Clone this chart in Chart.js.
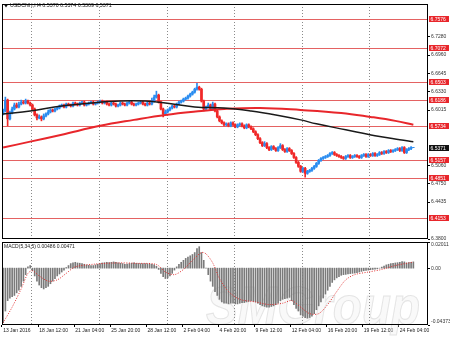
<!DOCTYPE html>
<html><head><meta charset="utf-8">
<script src="https://cdn.jsdelivr.net/npm/chart.js@4.4.1/dist/chart.umd.min.js"></script>
<style>
html,body{margin:0;padding:0;background:#fff;width:450px;height:337px;overflow:hidden;position:relative}
canvas{display:block;position:absolute;left:0}
#main{top:0}
#macd{top:240px}
</style></head><body>
<canvas id="main" width="450" height="246"></canvas>
<canvas id="macd" width="450" height="97"></canvas>
<script>
const symbolTitle = 'USDCNH,H4 6.5370 6.5374 6.5369 6.5371';
const macdTitle = 'MACD(5,34,5) 0.00486 0.00471';
const tickLabels = ['13 Jan 2016','18 Jan 12:00','21 Jan 04:00','25 Jan 20:00','28 Jan 12:00','2 Feb 04:00','4 Feb 20:00','9 Feb 12:00','12 Feb 04:00','16 Feb 20:00','19 Feb 12:00','24 Feb 04:00'];
const tickEvery = 16;
const emptyBars = 6;
const weekStartBars = [13, 43, 73, 103, 133, 163];

const opens = [6.5948,6.5999,6.6186,6.5863,6.5965,6.6033,6.6101,6.6067,6.6118,6.6152,
 6.6135,6.6169,6.6135,6.6101,6.6033,6.5931,6.5880,6.5897,6.5863,6.5914,
 6.5948,6.5982,6.6016,6.5999,6.6033,6.6050,6.6084,6.6101,6.6067,6.6118,
 6.6101,6.6084,6.6135,6.6118,6.6101,6.6135,6.6152,6.6101,6.6118,6.6135,
 6.6152,6.6118,6.6135,6.6152,6.6169,6.6135,6.6152,6.6118,6.6101,6.6135,
 6.6118,6.6084,6.6101,6.6135,6.6118,6.6101,6.6135,6.6152,6.6118,6.6101,
 6.6118,6.6135,6.6152,6.6118,6.6101,6.6135,6.6118,6.6169,6.6237,6.6271,
 6.6152,6.6033,6.5948,6.5982,6.6016,6.6050,6.6084,6.6067,6.6118,6.6152,
 6.6169,6.6203,6.6220,6.6254,6.6288,6.6322,6.6373,6.6407,6.6373,6.6169,
 6.6033,6.6067,6.6101,6.6033,6.6118,6.5999,6.5897,6.5829,6.5795,6.5761,
 6.5778,6.5744,6.5795,6.5761,6.5727,6.5761,6.5778,6.5744,6.5710,6.5761,
 6.5727,6.5693,6.5642,6.5591,6.5523,6.5455,6.5404,6.5438,6.5370,6.5336,
 6.5387,6.5353,6.5319,6.5370,6.5404,6.5336,6.5302,6.5353,6.5319,6.5268,
 6.5200,6.5115,6.5047,6.4962,6.5013,6.4928,6.4962,6.4979,6.5013,6.5047,
 6.5098,6.5149,6.5183,6.5200,6.5217,6.5234,6.5268,6.5285,6.5251,6.5234,
 6.5217,6.5200,6.5183,6.5217,6.5234,6.5200,6.5217,6.5234,6.5217,6.5200,
 6.5234,6.5251,6.5217,6.5251,6.5234,6.5268,6.5234,6.5251,6.5285,6.5268,
 6.5302,6.5285,6.5319,6.5302,6.5319,6.5336,6.5353,6.5319,6.5370,6.5285,
 6.5336,6.5353,6.5370];
const highs = [6.6033,6.6237,6.6203,6.5999,6.6067,6.6135,6.6135,6.6152,6.6186,6.6169,
 6.6203,6.6186,6.6152,6.6118,6.6050,6.5948,6.5931,6.5914,6.5948,6.5965,
 6.6016,6.6033,6.6033,6.6050,6.6067,6.6101,6.6118,6.6118,6.6135,6.6135,
 6.6118,6.6152,6.6152,6.6135,6.6152,6.6169,6.6169,6.6135,6.6152,6.6169,
 6.6169,6.6152,6.6169,6.6186,6.6186,6.6169,6.6169,6.6135,6.6152,6.6152,
 6.6135,6.6118,6.6152,6.6152,6.6135,6.6152,6.6169,6.6169,6.6135,6.6135,
 6.6152,6.6169,6.6169,6.6135,6.6152,6.6152,6.6220,6.6271,6.6339,6.6288,
 6.6169,6.6050,6.6016,6.6033,6.6067,6.6101,6.6101,6.6135,6.6169,6.6186,
 6.6220,6.6237,6.6271,6.6305,6.6339,6.6390,6.6475,6.6424,6.6390,6.6186,
 6.6084,6.6135,6.6118,6.6152,6.6135,6.6016,6.5914,6.5846,6.5812,6.5795,
 6.5795,6.5812,6.5812,6.5778,6.5778,6.5795,6.5795,6.5761,6.5778,6.5778,
 6.5744,6.5710,6.5659,6.5608,6.5540,6.5472,6.5472,6.5455,6.5387,6.5404,
 6.5404,6.5370,6.5387,6.5438,6.5421,6.5353,6.5370,6.5370,6.5336,6.5285,
 6.5217,6.5132,6.5064,6.5030,6.5030,6.4979,6.4996,6.5030,6.5064,6.5115,
 6.5166,6.5200,6.5217,6.5234,6.5251,6.5285,6.5302,6.5302,6.5268,6.5251,
 6.5234,6.5217,6.5234,6.5251,6.5251,6.5234,6.5251,6.5251,6.5234,6.5251,
 6.5268,6.5268,6.5268,6.5268,6.5285,6.5285,6.5268,6.5302,6.5302,6.5319,
 6.5319,6.5336,6.5336,6.5336,6.5353,6.5370,6.5370,6.5387,6.5387,6.5353,
 6.5370,6.5387,6.5374];
const lows = [6.5931,6.5982,6.5744,6.5846,6.5948,6.6016,6.6050,6.6050,6.6101,6.6118,
 6.6118,6.6118,6.6084,6.6016,6.5914,6.5846,6.5863,6.5829,6.5846,6.5897,
 6.5931,6.5965,6.5982,6.5982,6.6016,6.6033,6.6067,6.6050,6.6050,6.6084,
 6.6067,6.6067,6.6101,6.6084,6.6084,6.6118,6.6084,6.6084,6.6101,6.6118,
 6.6101,6.6101,6.6118,6.6135,6.6118,6.6118,6.6101,6.6084,6.6084,6.6101,
 6.6067,6.6067,6.6084,6.6101,6.6084,6.6084,6.6118,6.6101,6.6084,6.6084,
 6.6101,6.6118,6.6101,6.6084,6.6084,6.6101,6.6101,6.6152,6.6220,6.6135,
 6.6016,6.5897,6.5931,6.5965,6.5999,6.6033,6.6050,6.6050,6.6101,6.6135,
 6.6152,6.6186,6.6203,6.6237,6.6271,6.6305,6.6356,6.6356,6.6152,6.5999,
 6.6016,6.6050,6.6016,6.6016,6.5982,6.5880,6.5812,6.5778,6.5744,6.5744,
 6.5727,6.5727,6.5744,6.5710,6.5710,6.5744,6.5727,6.5693,6.5693,6.5710,
 6.5676,6.5625,6.5574,6.5506,6.5438,6.5387,6.5387,6.5353,6.5319,6.5319,
 6.5336,6.5302,6.5302,6.5353,6.5319,6.5285,6.5285,6.5302,6.5251,6.5183,
 6.5098,6.5030,6.4945,6.4945,6.4860,6.4911,6.4945,6.4962,6.4996,6.5030,
 6.5081,6.5132,6.5166,6.5183,6.5200,6.5217,6.5251,6.5234,6.5217,6.5200,
 6.5183,6.5166,6.5166,6.5200,6.5183,6.5183,6.5200,6.5200,6.5183,6.5183,
 6.5217,6.5200,6.5200,6.5217,6.5217,6.5217,6.5217,6.5234,6.5251,6.5251,
 6.5268,6.5268,6.5285,6.5285,6.5302,6.5319,6.5302,6.5302,6.5268,6.5268,
 6.5319,6.5336,6.5369];
const closes = [6.5999,6.6186,6.5863,6.5965,6.6033,6.6101,6.6067,6.6118,6.6152,6.6135,
 6.6169,6.6135,6.6101,6.6033,6.5931,6.5880,6.5897,6.5863,6.5914,6.5948,
 6.5982,6.6016,6.5999,6.6033,6.6050,6.6084,6.6101,6.6067,6.6118,6.6101,
 6.6084,6.6135,6.6118,6.6101,6.6135,6.6152,6.6101,6.6118,6.6135,6.6152,
 6.6118,6.6135,6.6152,6.6169,6.6135,6.6152,6.6118,6.6101,6.6135,6.6118,
 6.6084,6.6101,6.6135,6.6118,6.6101,6.6135,6.6152,6.6118,6.6101,6.6118,
 6.6135,6.6152,6.6118,6.6101,6.6135,6.6118,6.6169,6.6237,6.6271,6.6152,
 6.6033,6.5948,6.5982,6.6016,6.6050,6.6084,6.6067,6.6118,6.6152,6.6169,
 6.6203,6.6220,6.6254,6.6288,6.6322,6.6373,6.6407,6.6373,6.6169,6.6033,
 6.6067,6.6101,6.6033,6.6118,6.5999,6.5897,6.5829,6.5795,6.5761,6.5778,
 6.5744,6.5795,6.5761,6.5727,6.5761,6.5778,6.5744,6.5710,6.5761,6.5727,
 6.5693,6.5642,6.5591,6.5523,6.5455,6.5404,6.5438,6.5370,6.5336,6.5387,
 6.5353,6.5319,6.5370,6.5404,6.5336,6.5302,6.5353,6.5319,6.5268,6.5200,
 6.5115,6.5047,6.4962,6.5013,6.4928,6.4962,6.4979,6.5013,6.5047,6.5098,
 6.5149,6.5183,6.5200,6.5217,6.5234,6.5268,6.5285,6.5251,6.5234,6.5217,
 6.5200,6.5183,6.5217,6.5234,6.5200,6.5217,6.5234,6.5217,6.5200,6.5234,
 6.5251,6.5217,6.5251,6.5234,6.5268,6.5234,6.5251,6.5285,6.5268,6.5302,
 6.5285,6.5319,6.5302,6.5319,6.5336,6.5353,6.5319,6.5370,6.5285,6.5336,
 6.5353,6.5370,6.5371];

const blackMaBars = [0,12,26,39,52,63,72,85,98,110,121,132,139,152,165,176,182];
const blackMaValues = [6.5948,6.5999,6.6084,6.6135,6.6169,6.6169,6.6135,6.6067,6.6050,6.5999,6.5931,6.5846,6.5778,6.5676,6.5574,6.5506,6.5472];
const redMaBars = [0,12,26,43,58,72,88,98,114,132,150,163,174,182];
const redMaValues = [6.5370,6.5472,6.5591,6.5744,6.5846,6.5931,6.5999,6.6033,6.6050,6.6016,6.5965,6.5897,6.5829,6.5761];

const levels = [6.7576,6.7072,6.6503,6.6186,6.5734,6.5157,6.4851,6.4153];
const lastPrice = 6.5371;
const priceTicks = [6.7280,6.6960,6.6645,6.6330,6.6015,6.5060,6.4750,6.4435,6.3800];
const priceMin = 6.3800, priceMax = 6.7836;

const macdHist = [-0.0420,-0.0330,-0.0250,-0.0230,-0.0220,-0.0210,-0.0190,-0.0170,-0.0140,-0.0100,
 -0.0050,0.0010,0.0020,-0.0020,-0.0060,-0.0100,-0.0130,-0.0150,-0.0160,-0.0150,
 -0.0140,-0.0120,-0.0100,-0.0080,-0.0060,-0.0045,-0.0030,-0.0015,0.0005,0.0020,
 0.0035,0.0040,0.0045,0.0040,0.0038,0.0035,0.0030,0.0025,0.0022,0.0020,
 0.0020,0.0025,0.0030,0.0035,0.0040,0.0042,0.0045,0.0042,0.0045,0.0048,
 0.0045,0.0040,0.0038,0.0035,0.0030,0.0032,0.0035,0.0038,0.0040,0.0038,
 0.0036,0.0035,0.0036,0.0035,0.0034,0.0032,0.0030,0.0025,0.0015,-0.0010,
 -0.0040,-0.0065,-0.0080,-0.0075,-0.0060,-0.0040,-0.0015,0.0010,0.0030,0.0045,
 0.0060,0.0075,0.0085,0.0095,0.0105,0.0120,0.0150,0.0165,0.0120,0.0060,
 0.0000,-0.0050,-0.0100,-0.0140,-0.0180,-0.0210,-0.0240,-0.0260,-0.0270,-0.0270,
 -0.0275,-0.0270,-0.0270,-0.0275,-0.0275,-0.0270,-0.0265,-0.0265,-0.0260,-0.0255,
 -0.0250,-0.0255,-0.0260,-0.0270,-0.0280,-0.0290,-0.0295,-0.0300,-0.0300,-0.0295,
 -0.0290,-0.0280,-0.0270,-0.0250,-0.0240,-0.0235,-0.0230,-0.0225,-0.0250,-0.0280,
 -0.0310,-0.0330,-0.0360,-0.0370,-0.0380,-0.0385,-0.0380,-0.0370,-0.0350,-0.0320,
 -0.0290,-0.0260,-0.0230,-0.0200,-0.0170,-0.0140,-0.0110,-0.0090,-0.0075,-0.0065,
 -0.0055,-0.0050,-0.0048,-0.0045,-0.0042,-0.0040,-0.0038,-0.0035,-0.0030,-0.0025,
 -0.0020,-0.0018,-0.0015,-0.0012,-0.0010,-0.0008,-0.0005,0.0000,0.0008,0.0015,
 0.0025,0.0030,0.0035,0.0038,0.0040,0.0042,0.0045,0.0050,0.0048,0.0040,
 0.0042,0.0045,0.0048];
const signalBars = [0,4,8,11,13,16,20,24,28,32,40,50,60,68,72,76,80,84,88,90,93,96,100,105,112,118,124,128,132,136,140,144,148,152,156,162,168,174,182];
const signalValues = [-0.042,-0.030,-0.016,-0.004,-0.002,-0.006,-0.010,-0.009,-0.004,0.001,0.003,0.004,0.0037,0.0028,-0.003,-0.005,-0.001,0.006,0.012,0.011,0.004,-0.008,-0.018,-0.024,-0.026,-0.028,-0.027,-0.025,-0.030,-0.035,-0.035,-0.028,-0.018,-0.009,-0.005,-0.003,-0.001,0.002,0.0047];
const macdMax = 0.02011, macdMin = -0.04373;
const macdTickLabels = ['0.02011','0.00','-0.04373'];
const macdTickValues = [0.02011, 0, -0.04373];

// ---------- build ----------
const FONT = "'Liberation Sans', Arial, sans-serif";
Chart.defaults.font.family = FONT;
Chart.defaults.animation = false;
const UP = '#2a8cf0', DOWN = '#f02828', LEVEL = '#e46262';
const N = closes.length + emptyBars;
const labels = Array.from({length: N}, (_, i) => (i % tickEvery === 0 && tickLabels[i / tickEvery]) ? tickLabels[i / tickEvery] : '');
const candleColors = closes.map((c, i) => c >= opens[i] ? UP : DOWN);
function sparse(bars, vals) { const a = new Array(N).fill(null); bars.forEach((b, k) => a[b] = vals[k]); return a; }

function drawWeekGrid(chart) {
  const {ctx, chartArea: a, scales: {x}} = chart;
  ctx.save();
  ctx.strokeStyle = '#8a8a8a'; ctx.lineWidth = 1; ctx.setLineDash([1, 2]);
  weekStartBars.forEach(b => {
    const px = Math.round(x.getPixelForValue(b - 0.5)) + 0.5;
    ctx.beginPath(); ctx.moveTo(px, a.top); ctx.lineTo(px, a.bottom); ctx.stroke();
  });
  ctx.restore();
}
function drawFrame(chart) {
  const {ctx, chartArea: a} = chart;
  ctx.save(); ctx.strokeStyle = '#000'; ctx.lineWidth = 1;
  ctx.strokeRect(Math.round(a.left) + 0.5, Math.round(a.top) + 0.5, Math.round(a.right - a.left) - 1, Math.round(a.bottom - a.top) - 1);
  ctx.restore();
}
function axisBox(ctx, x, y, text, bg) {
  ctx.fillStyle = bg;
  ctx.fillRect(x, Math.round(y) - 3, 20, 6);
  ctx.fillStyle = '#fff'; ctx.font = '5px ' + FONT; ctx.textBaseline = 'middle'; ctx.textAlign = 'left';
  ctx.fillText(text, x + 1.5, Math.round(y) + 0.2);
}

const mainPlugin = {
  id: 'mainDecor',
  beforeDatasetsDraw(chart) {
    const {ctx, chartArea: a, scales: {y}} = chart;
    drawWeekGrid(chart);
    ctx.save(); ctx.strokeStyle = LEVEL; ctx.lineWidth = 1;
    levels.forEach(v => { const py = Math.round(y.getPixelForValue(v)) + 0.5; ctx.beginPath(); ctx.moveTo(a.left, py); ctx.lineTo(a.right, py); ctx.stroke(); });
    ctx.restore();
  },
  afterDraw(chart) {
    const {ctx, chartArea: a, scales: {y}} = chart;
    drawFrame(chart);
    ctx.save();
    levels.forEach(v => axisBox(ctx, a.right + 1, y.getPixelForValue(v), v.toFixed(4), '#e8262b'));
    axisBox(ctx, a.right + 1, y.getPixelForValue(lastPrice), lastPrice.toFixed(4), '#111');
    ctx.fillStyle = '#111';
    ctx.beginPath(); ctx.moveTo(4, 4.5); ctx.lineTo(8, 4.5); ctx.lineTo(6, 7.5); ctx.closePath(); ctx.fill();
    ctx.font = '5.3px ' + FONT; ctx.textBaseline = 'middle'; ctx.textAlign = 'left';
    ctx.fillText(symbolTitle, 10, 6);
    ctx.restore();
  }
};

new Chart(document.getElementById('main'), {
  type: 'bar',
  data: {
    labels,
    datasets: [
      { type: 'line', data: sparse(blackMaBars, blackMaValues), borderColor: '#1a1a1a', borderWidth: 1.5, pointRadius: 0, spanGaps: true, tension: 0.4, order: 0 },
      { type: 'line', data: sparse(redMaBars, redMaValues), borderColor: '#e8262b', borderWidth: 2, pointRadius: 0, spanGaps: true, tension: 0.4, order: 0 },
      { data: opens.map((o, i) => [o, closes[i]]), backgroundColor: candleColors, barThickness: 2, grouped: false, order: 1, borderWidth: 0 },
      { data: lows.map((l, i) => [l, highs[i]]), backgroundColor: candleColors, barThickness: 1, grouped: false, order: 2, borderWidth: 0 }
    ]
  },
  options: {
    responsive: false, devicePixelRatio: 1, animation: false,
    layout: { padding: { left: 2, top: 2, right: 0, bottom: 7 } },
    plugins: { legend: { display: false }, tooltip: { enabled: false } },
    scales: {
      x: { display: false },
      y: {
        position: 'right', min: priceMin, max: priceMax,
        afterFit: s => { s.width = 22; },
        afterBuildTicks: s => { s.ticks = priceTicks.map(v => ({ value: v })); },
        grid: { display: true, drawOnChartArea: false, drawTicks: true, tickLength: 2, color: '#000' },
        border: { display: false },
        ticks: { font: { size: 5 }, color: '#333', padding: 1, callback: v => Number(v).toFixed(4) }
      }
    }
  },
  plugins: [mainPlugin]
});

const macdPlugin = {
  id: 'macdDecor',
  beforeDatasetsDraw(chart) {
    const {ctx, chartArea: a} = chart;
    ctx.save();
    ctx.font = 'italic bold 54px ' + FONT;
    const w = ctx.measureText('SMGroup').width;
    ctx.translate(206, a.bottom - 1);
    ctx.scale(214 / w, 1);
    ctx.fillStyle = 'rgba(238,238,238,0.35)';
    ctx.strokeStyle = 'rgba(210,210,210,0.55)'; ctx.lineWidth = 1.1;
    ctx.fillText('SMGroup', 0, 0); ctx.strokeText('SMGroup', 0, 0);
    ctx.restore();
    drawWeekGrid(chart);
  },
  afterDraw(chart) {
    const {ctx, chartArea: a, scales: {y}} = chart;
    drawFrame(chart);
    ctx.save();
    ctx.fillStyle = '#222'; ctx.font = '5px ' + FONT; ctx.textAlign = 'left'; ctx.textBaseline = 'middle';
    ctx.fillText(macdTitle, 4, a.top + 5);
    ctx.fillStyle = '#333';
    macdTickValues.forEach((v, k) => {
      let py = y.getPixelForValue(v);
      if (k === 0) py += 3; if (k === 2) py -= 3;
      ctx.fillText(macdTickLabels[k], a.right + 3, py);
      ctx.fillStyle = '#000'; ctx.fillRect(a.right, Math.round(y.getPixelForValue(v)), 2, 1); ctx.fillStyle = '#333';
    });
    ctx.restore();
  }
};

new Chart(document.getElementById('macd'), {
  type: 'bar',
  data: {
    labels,
    datasets: [
      { type: 'line', data: sparse(signalBars, signalValues), borderColor: '#e03030', borderWidth: 1, borderDash: [1, 1.5], pointRadius: 0, spanGaps: true, tension: 0.3, order: 0 },
      { data: macdHist, backgroundColor: '#7a7a7a', barThickness: 1, order: 1, borderWidth: 0 }
    ]
  },
  options: {
    responsive: false, devicePixelRatio: 1, animation: false,
    layout: { padding: { left: 2, top: 2, right: 0, bottom: 0 } },
    plugins: { legend: { display: false }, tooltip: { enabled: false } },
    scales: {
      x: {
        afterFit: s => { s.height = 12; },
        grid: { display: true, drawOnChartArea: false, drawTicks: true, tickLength: 2, color: c => (c.index % tickEvery === 0 ? '#000' : 'rgba(0,0,0,0)') },
        border: { display: false },
        ticks: { autoSkip: false, maxRotation: 0, minRotation: 0, align: 'start', padding: 1, font: { size: 5 }, color: '#222', callback: (v, i) => labels[i] }
      },
      y: {
        position: 'right', min: macdMin, max: macdMax,
        afterFit: s => { s.width = 22; },
        grid: { display: false }, border: { display: false },
        ticks: { display: false }
      }
    }
  },
  plugins: [macdPlugin]
});
</script>
</body></html>
